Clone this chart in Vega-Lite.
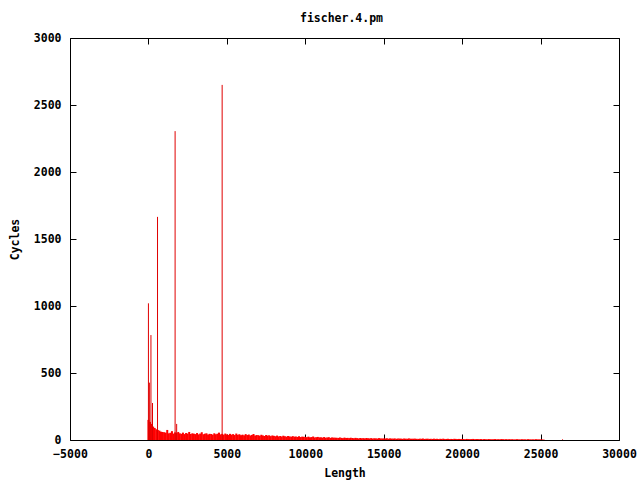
{
  "$schema": "https://vega.github.io/schema/vega-lite/v6.json",
  "width": 549,
  "height": 402,
  "autosize": "none",
  "padding": {"left": 70, "top": 38, "right": 21, "bottom": 40},
  "background": "white",
  "title": {"text": "fischer.4.pm", "font": "DejaVu Sans Mono", "fontSize": 11.5, "fontWeight": "bold", "offset": 8, "color": "black", "dx": -3},
  "config": {
    "view": {"stroke": "black", "strokeWidth": 1},
    "axis": {
      "domain": false, "grid": false, "tickColor": "black", "tickWidth": 1, "tickSize": 6, "offset": -6,
      "labelFlush": false, "labelOverlap": false, "labelBound": false,
      "labelFont": "DejaVu Sans Mono", "labelFontSize": 11.5, "labelFontWeight": "bold", "labelColor": "black",
      "titleFont": "DejaVu Sans Mono", "titleFontSize": 11.5, "titleFontWeight": "bold", "titleColor": "black"
    }
  },
  "datasets": {
    "body": [
      {"length":0,"cycles":150},{"length":100,"cycles":135},{"length":200,"cycles":120},{"length":300,"cycles":100},{"length":400,"cycles":90},{"length":500,"cycles":80},{"length":600,"cycles":75},{"length":700,"cycles":70},{"length":800,"cycles":62},{"length":900,"cycles":60},
      {"length":1000,"cycles":58},{"length":1100,"cycles":55},{"length":1200,"cycles":75},{"length":1300,"cycles":50},{"length":1400,"cycles":54},{"length":1500,"cycles":66},{"length":1600,"cycles":48},{"length":1700,"cycles":57},{"length":1800,"cycles":52},{"length":1900,"cycles":60},
      {"length":2000,"cycles":50},{"length":2100,"cycles":46},{"length":2200,"cycles":55},{"length":2300,"cycles":44},{"length":2400,"cycles":52},{"length":2500,"cycles":48},{"length":2600,"cycles":60},{"length":2700,"cycles":45},{"length":2800,"cycles":50},{"length":2900,"cycles":47},
      {"length":3000,"cycles":44},{"length":3100,"cycles":52},{"length":3200,"cycles":42},{"length":3300,"cycles":48},{"length":3400,"cycles":58},{"length":3500,"cycles":43},{"length":3600,"cycles":47},{"length":3700,"cycles":50},{"length":3800,"cycles":41},{"length":3900,"cycles":46},
      {"length":4000,"cycles":45},{"length":4100,"cycles":40},{"length":4200,"cycles":50},{"length":4300,"cycles":43},{"length":4400,"cycles":47},{"length":4500,"cycles":55},{"length":4600,"cycles":42},{"length":4700,"cycles":46},{"length":4800,"cycles":40},{"length":4900,"cycles":48},
      {"length":5000,"cycles":42},{"length":5100,"cycles":38},{"length":5200,"cycles":46},{"length":5300,"cycles":40},{"length":5400,"cycles":44},{"length":5500,"cycles":37},{"length":5600,"cycles":48},{"length":5700,"cycles":39},{"length":5800,"cycles":43},{"length":5900,"cycles":36},
      {"length":6000,"cycles":40},{"length":6100,"cycles":35},{"length":6200,"cycles":44},{"length":6300,"cycles":37},{"length":6400,"cycles":41},{"length":6500,"cycles":34},{"length":6600,"cycles":38},{"length":6700,"cycles":45},{"length":6800,"cycles":33},{"length":6900,"cycles":37},
      {"length":7000,"cycles":36},{"length":7100,"cycles":32},{"length":7200,"cycles":39},{"length":7300,"cycles":34},{"length":7400,"cycles":30},{"length":7500,"cycles":37},{"length":7600,"cycles":33},{"length":7700,"cycles":35},{"length":7800,"cycles":29},{"length":7900,"cycles":34},
      {"length":8000,"cycles":31},{"length":8100,"cycles":28},{"length":8200,"cycles":33},{"length":8300,"cycles":27},{"length":8400,"cycles":30},{"length":8500,"cycles":26},{"length":8600,"cycles":32},{"length":8700,"cycles":28},{"length":8800,"cycles":25},{"length":8900,"cycles":30},
      {"length":9000,"cycles":27},{"length":9100,"cycles":24},{"length":9200,"cycles":29},{"length":9300,"cycles":25},{"length":9400,"cycles":26},{"length":9500,"cycles":23},{"length":9600,"cycles":28},{"length":9700,"cycles":22},{"length":9800,"cycles":25},{"length":9900,"cycles":24},
      {"length":10000,"cycles":23},{"length":10100,"cycles":21},{"length":10200,"cycles":25},{"length":10300,"cycles":20},{"length":10400,"cycles":22},{"length":10500,"cycles":26},{"length":10600,"cycles":19},{"length":10700,"cycles":21},{"length":10800,"cycles":23},{"length":10900,"cycles":20},
      {"length":11000,"cycles":20},{"length":11100,"cycles":18},{"length":11200,"cycles":22},{"length":11300,"cycles":17},{"length":11400,"cycles":19},{"length":11500,"cycles":21},{"length":11600,"cycles":16},{"length":11700,"cycles":19},{"length":11800,"cycles":18},{"length":11900,"cycles":17},
      {"length":12000,"cycles":17},{"length":12100,"cycles":15},{"length":12200,"cycles":19},{"length":12300,"cycles":16},{"length":12400,"cycles":14},{"length":12500,"cycles":18},{"length":12600,"cycles":15},{"length":12700,"cycles":16},{"length":12800,"cycles":14},{"length":12900,"cycles":17},
      {"length":13000,"cycles":15},{"length":13100,"cycles":13},{"length":13200,"cycles":16},{"length":13300,"cycles":14},{"length":13400,"cycles":12},{"length":13500,"cycles":15},{"length":13600,"cycles":13},{"length":13700,"cycles":14},{"length":13800,"cycles":12},{"length":13900,"cycles":15},
      {"length":14000,"cycles":13},{"length":14100,"cycles":12},{"length":14200,"cycles":14},{"length":14300,"cycles":11},{"length":14400,"cycles":13},{"length":14500,"cycles":12},{"length":14600,"cycles":11},{"length":14700,"cycles":14},{"length":14800,"cycles":12},{"length":14900,"cycles":11},
      {"length":15000,"cycles":12},{"length":15100,"cycles":11},{"length":15200,"cycles":13},{"length":15300,"cycles":10},{"length":15400,"cycles":12},{"length":15500,"cycles":11},{"length":15600,"cycles":10},{"length":15700,"cycles":12},{"length":15800,"cycles":9},{"length":15900,"cycles":11},
      {"length":16000,"cycles":11},{"length":16100,"cycles":10},{"length":16200,"cycles":9},{"length":16300,"cycles":11},{"length":16400,"cycles":10},{"length":16500,"cycles":9},{"length":16600,"cycles":12},{"length":16700,"cycles":10},{"length":16800,"cycles":9},{"length":16900,"cycles":10},
      {"length":17000,"cycles":10},{"length":17100,"cycles":9},{"length":17200,"cycles":8},{"length":17300,"cycles":10},{"length":17400,"cycles":9},{"length":17500,"cycles":11},{"length":17600,"cycles":8},{"length":17700,"cycles":9},{"length":17800,"cycles":10},{"length":17900,"cycles":8},
      {"length":18000,"cycles":9},{"length":18100,"cycles":8},{"length":18200,"cycles":10},{"length":18300,"cycles":8},{"length":18400,"cycles":9},{"length":18500,"cycles":7},{"length":18600,"cycles":9},{"length":18700,"cycles":8},{"length":18800,"cycles":10},{"length":18900,"cycles":7},
      {"length":19000,"cycles":8},{"length":19100,"cycles":9},{"length":19200,"cycles":7},{"length":19300,"cycles":8},{"length":19400,"cycles":7},{"length":19500,"cycles":9},{"length":19600,"cycles":8},{"length":19700,"cycles":7},{"length":19800,"cycles":8},{"length":19900,"cycles":7},
      {"length":20000,"cycles":8},{"length":20100,"cycles":7},{"length":20200,"cycles":6},{"length":20300,"cycles":8},{"length":20400,"cycles":7},{"length":20500,"cycles":6},{"length":20600,"cycles":7},{"length":20700,"cycles":8},{"length":20800,"cycles":6},{"length":20900,"cycles":7},
      {"length":21000,"cycles":7},{"length":21100,"cycles":6},{"length":21200,"cycles":7},{"length":21300,"cycles":5},{"length":21400,"cycles":7},{"length":21500,"cycles":6},{"length":21600,"cycles":5},{"length":21700,"cycles":7},{"length":21800,"cycles":6},{"length":21900,"cycles":5},
      {"length":22000,"cycles":6},{"length":22100,"cycles":7},{"length":22200,"cycles":5},{"length":22300,"cycles":6},{"length":22400,"cycles":5},{"length":22500,"cycles":7},{"length":22600,"cycles":6},{"length":22700,"cycles":5},{"length":22800,"cycles":6},{"length":22900,"cycles":5},
      {"length":23000,"cycles":6},{"length":23100,"cycles":5},{"length":23200,"cycles":6},{"length":23300,"cycles":4},{"length":23400,"cycles":5},{"length":23500,"cycles":6},{"length":23600,"cycles":5},{"length":23700,"cycles":4},{"length":23800,"cycles":6},{"length":23900,"cycles":5},
      {"length":24000,"cycles":5},{"length":24100,"cycles":4},{"length":24200,"cycles":6},{"length":24300,"cycles":5},{"length":24400,"cycles":4},{"length":24500,"cycles":5},{"length":24600,"cycles":4},{"length":24700,"cycles":6},{"length":24800,"cycles":5},{"length":24900,"cycles":4},
      {"length":25000,"cycles":5},{"length":25100,"cycles":4},{"length":25200,"cycles":3}
    ],
    "spikes": [
      {"length":0,"cycles":1020},{"length":60,"cycles":428},{"length":160,"cycles":783},{"length":260,"cycles":276},
      {"length":580,"cycles":1665},{"length":1700,"cycles":2305},{"length":1800,"cycles":120},{"length":4700,"cycles":2650},
      {"length":26400,"cycles":5}
    ]
  },
  "layer": [
    {
      "data": {"name": "body"},
      "mark": {"type": "rule", "color": "#ff0000", "strokeWidth": 2},
      "encoding": {
        "x": {"field": "length", "type": "quantitative", "scale": {"domain": [-5000, 30000], "nice": false},
              "axis": {"orient": "bottom", "values": [-5000, 0, 5000, 10000, 15000, 20000, 25000, 30000], "format": "d", "labelPadding": 8, "title": "Length", "titlePadding": 8}},
        "y": {"field": "cycles", "type": "quantitative", "scale": {"domain": [0, 3000], "nice": false},
              "axis": {"orient": "left", "values": [0, 500, 1000, 1500, 2000, 2500, 3000], "format": "d", "labelPadding": 9, "title": "Cycles", "titlePadding": 13}},
        "y2": {"datum": 0}
      }
    },
    {
      "data": {"name": "spikes"},
      "mark": {"type": "rule", "color": "#e00000", "strokeWidth": 1},
      "encoding": {
        "x": {"field": "length", "type": "quantitative", "scale": {"domain": [-5000, 30000], "nice": false},
              "axis": {"orient": "top", "values": [-5000, 0, 5000, 10000, 15000, 20000, 25000, 30000], "labels": false, "title": null}},
        "y": {"field": "cycles", "type": "quantitative", "scale": {"domain": [0, 3000], "nice": false},
              "axis": {"orient": "right", "values": [0, 500, 1000, 1500, 2000, 2500, 3000], "labels": false, "title": null}},
        "y2": {"datum": 0}
      }
    }
  ],
  "resolve": {"axis": {"x": "independent", "y": "independent"}}
}
